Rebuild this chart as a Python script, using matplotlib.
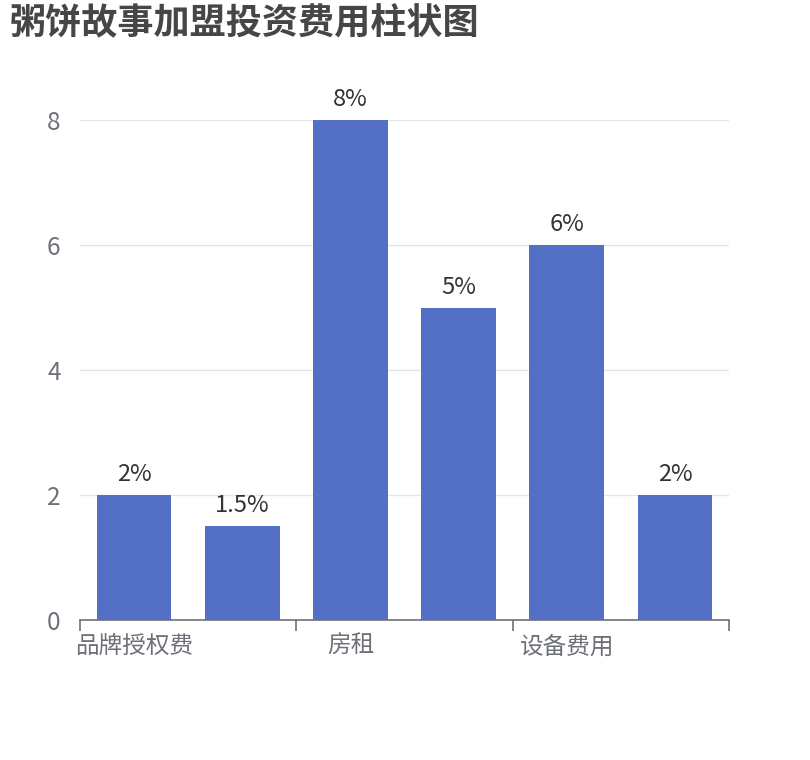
import matplotlib
matplotlib.use('Agg')
from matplotlib import pyplot as plt

plt.rcParams['font.family'] = ['Noto Sans CJK SC', 'DejaVu Sans']

title = "粥饼故事加盟投资费用柱状图"
categories = ["品牌授权费", "加盟保证金", "房租", "装修费用", "设备费用", "其他费用"]
values = [2, 1.5, 8, 5, 6, 2]
labels = ["2%", "1.5%", "8%", "5%", "6%", "2%"]
yticks = [0, 2, 4, 6, 8]

fig = plt.figure(figsize=(8.1, 7.6), dpi=100)
ax = fig.add_axes([80 / 810, 140 / 760, 649 / 810, 500 / 760])

x = list(range(len(categories)))
bars = ax.bar(x, values, width=0.69, color='#5470c6', zorder=3)
for b, lab in zip(bars, labels):
    ax.annotate(lab, (b.get_x() + b.get_width() / 2, b.get_height()),
                xytext=(0, 9), textcoords='offset pixels',
                ha='center', va='bottom', fontsize=17, color='#333333')

ax.set_xlim(-0.5, len(categories) - 0.5)
ax.set_ylim(0, 8)
ax.set_yticks(yticks)
ax.set_yticklabels([str(v) for v in yticks])
ax.grid(axis='y', color='#e0e6f1', linewidth=1, zorder=0)

# ticks at every second category boundary, labels at every second category
ax.set_xticks([i - 0.5 for i in range(0, len(categories) + 1, 2)])
ax.set_xticklabels([])
ax.set_xticks(x[::2], minor=True)
ax.set_xticklabels(categories[::2], minor=True)
ax.tick_params(axis='x', which='major', length=8, width=1.2, color='#6e7079', direction='out')
ax.tick_params(axis='x', which='minor', length=0, pad=11, labelsize=17, labelcolor='#6e7079')
ax.tick_params(axis='y', length=0, pad=14, labelsize=17.5, labelcolor='#6e7079')

for s in ['top', 'right', 'left']:
    ax.spines[s].set_visible(False)
ax.spines['bottom'].set_color('#6e7079')
ax.spines['bottom'].set_linewidth(1.2)
ax.spines['bottom'].set_zorder(4)

fig.text(10 / 810, 1 - 5 / 760, title, ha='left', va='top', fontsize=26,
         fontweight='bold', color='#464646')

plt.savefig("out.png")
